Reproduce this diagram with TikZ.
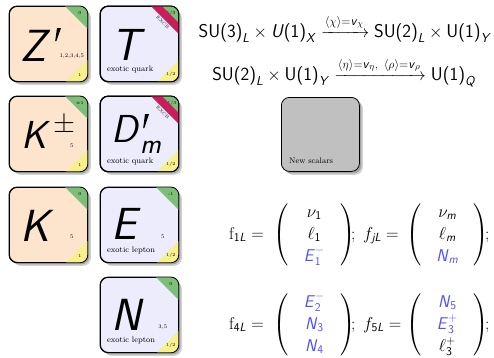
\documentclass[tikz,border=0pt]{standalone}
\usepackage{amsmath}
\usepackage{fontspec}
\usetikzlibrary{shadows}
\definecolor{peach}{RGB}{253,228,204}
\definecolor{lav}{RGB}{236,236,252}
\definecolor{tgreen}{RGB}{125,190,120}
\definecolor{tyellow}{RGB}{247,240,140}
\definecolor{tred}{RGB}{200,30,90}
\definecolor{sgray}{RGB}{192,192,192}
\definecolor{eblue}{RGB}{80,80,255}
\newcommand{\sv}[1]{\textsf{\textit{#1}}}
\newcommand{\su}[1]{\textsf{#1}}
\newcommand{\colvec}[3]{\left(\begin{array}{@{}c@{}}\makebox[52pt]{$#1$}\\ #2\\ #3\end{array}\right)}
\tikzset{
 tilebox/.style={draw=black, line width=0.8pt, rounded corners=8pt, minimum width=78pt, minimum height=75pt, inner sep=0pt, anchor=north west,
   drop shadow={shadow xshift=2pt, shadow yshift=-2pt, fill=black, opacity=0.22},
   drop shadow={shadow xshift=3.5pt, shadow yshift=-3.5pt, fill=black, opacity=0.18}},
 bigsym/.style={font=\fontsize{45}{45}\selectfont\sffamily\itshape, inner sep=0pt, anchor=base west},
 midsym/.style={font=\fontsize{39}{39}\selectfont\sffamily\itshape, inner sep=0pt, anchor=base west},
 tinylbl/.style={font=\fontsize{4.5}{4.5}\selectfont, inner sep=0pt},
 midlbl/.style={font=\fontsize{5.5}{5.5}\selectfont, inner sep=0pt},
 desc/.style={font=\fontsize{8}{8}\selectfont, inner sep=0pt, anchor=base west},
 eqn/.style={font=\fontsize{18.5}{20}\selectfont, inner sep=0pt, anchor=base},
 eqm/.style={font=\fontsize{17}{22}\selectfont, inner sep=0pt, anchor=base west},
 primemark/.style={fill=black},
}
% name, x, y, fill, green leg, mid label, green label, yellow label
\newcommand{\ptile}[8]{%
 \node[tilebox, fill=#4] (#1) at (#2,#3) {};
 \begin{scope}
  \clip[rounded corners=8pt] (#1.north west) rectangle (#1.south east);
  \fill[tgreen] (#1.north east) -- ++(0,-#5) -- ++(-#5,#5) -- cycle;
  \fill[tyellow] (#1.south east) -- ++(0,22pt) -- ++(-22pt,-22pt) -- cycle;
 \end{scope}
 \draw[line width=0.8pt, rounded corners=8pt] (#1.north west) rectangle (#1.south east);
 \node[midlbl] (#1-mid) at ([xshift=-16pt,yshift=-50pt]#1.north east) {#6};
 \node[tinylbl] (#1-grn) at ([xshift=-8pt,yshift=-7pt]#1.north east) {#7};
 \node[tinylbl] (#1-yel) at ([xshift=-8pt,yshift=7pt]#1.south east) {#8};
}
\newcommand{\redband}[1]{%
 \begin{scope}
  \clip[rounded corners=8pt] (#1.north west) rectangle (#1.south east);
  \fill[tred] ([xshift=-17pt]#1.north east) -- ([yshift=-17pt]#1.north east) -- ([yshift=-28pt]#1.north east) -- ([xshift=-28pt]#1.north east) -- cycle;
 \end{scope}
 \draw[line width=0.8pt, rounded corners=8pt] (#1.north west) rectangle (#1.south east);
 \node[tinylbl, rotate=-45, text=black!85] (#1-band) at ([xshift=-16pt,yshift=-16pt]#1.north east) {EXCB};
}
% prime stroke: tile name, x offset of top from tile left, y offset from tile top, height
\newcommand{\pstroke}[4]{%
 \fill[primemark] ([xshift=#2pt,yshift=-#3pt]#1.north west) -- ++(4pt,0) -- ++(-4.6pt,-#4pt) -- ++(-1.2pt,0) -- cycle;
}
\begin{document}
\begin{tikzpicture}[x=1pt,y=-1pt]
\useasboundingbox (0,0) rectangle (494,357);
% Z'
\ptile{zp}{9}{6}{peach}{23pt}{1,2,3,4,5}{0}{1}
\node[bigsym] (zp-sym) at ([xshift=11pt,yshift=-55pt]zp.north west) {Z};
\pstroke{zp}{48}{22}{13}
% T
\ptile{tq}{100}{6}{lav}{17pt}{}{5/3}{1/2}
\redband{tq}
\node[bigsym] (tq-sym) at ([xshift=11pt,yshift=-54pt]tq.north west) {T};
\node[desc] (tq-d) at ([xshift=7pt,yshift=10pt]tq.south west) {exotic quark};
% K+-
\ptile{kpm}{9}{96}{peach}{23pt}{5}{±1}{1}
\node[midsym] (kpm-sym) at ([xshift=12pt,yshift=-52pt]kpm.north west) {K};
\node[font=\fontsize{30}{30}\selectfont\sffamily, inner sep=0pt] (kpm-pm) at ([xshift=55pt,yshift=-27pt]kpm.north west) {±};
% D'_m
\ptile{dm}{100}{96}{lav}{17pt}{}{-1/3}{1/2}
\redband{dm}
\node[midsym] (dm-sym) at ([xshift=11pt,yshift=-46pt]dm.north west) {D};
\pstroke{dm}{45}{18}{14}
\node[font=\fontsize{28}{28}\selectfont\sffamily\itshape, inner sep=0pt, anchor=base west] (dm-m) at ([xshift=40pt,yshift=-57pt]dm.north west) {m};
\node[desc] (dm-d) at ([xshift=7pt,yshift=8pt]dm.south west) {exotic quark};
% K
\ptile{kz}{9}{187}{peach}{23pt}{5}{0}{1}
\node[bigsym] (kz-sym) at ([xshift=11pt,yshift=-54pt]kz.north west) {K};
% E
\ptile{el}{100}{187}{lav}{23pt}{5}{-1}{1/2}
\node[bigsym] (el-sym) at ([xshift=11pt,yshift=-52pt]el.north west) {E};
\node[desc] (el-d) at ([xshift=7pt,yshift=10pt]el.south west) {exotic lepton};
% N
\ptile{nl}{100}{277}{lav}{23pt}{3,5}{0}{1/2}
\node[bigsym] (nl-sym) at ([xshift=11pt,yshift=-53pt]nl.north west) {N};
\node[desc] (nl-d) at ([xshift=7pt,yshift=10pt]nl.south west) {exotic lepton};
% new scalars
\node[tilebox, fill=sgray, minimum width=78pt, minimum height=74pt] (ns) at (281,97) {};
\node[desc] (ns-d) at ([xshift=8pt,yshift=8pt]ns.south west) {New scalars};
% symmetry breaking
\node[eqn] (l1) at (345,37) {$\su{SU(3)}_{\sv{L}}\times \sv{U}\su{(1)}_{\sv{X}} \xrightarrow{\langle\chi\rangle=\sv{v}_{\chi}} \su{SU(2)}_{\sv{L}}\times\su{U(1)}_{\sv{Y}}$};
\node[eqn] (l2) at (344,80) {$\su{SU(2)}_{\sv{L}}\times\su{U(1)}_{\sv{Y}}\xrightarrow{\langle\eta\rangle=\sv{v}_{\eta},\ \langle\rho\rangle=\sv{v}_{\rho}}\su{U(1)}_{\sv{Q}}$};
% multiplets row 1
\node[eqm] (m1l) at (229,239) {$\mathrm{f}_{\su{1}\sv{L}} =$};
\node[eqm] (m1m) at (273,239) {$\colvec{\nu_{\su{1}}}{\ell_{\su{1}}}{\textcolor{eblue}{\sv{E}^{-}_{\su{1}}}}$};
\node[eqm] (m1s) at (351,239) {;};
\node[eqm] (m2l) at (363,239) {$f_{\sv{jL}} =$};
\node[eqm] (m2m) at (406,239) {$\colvec{\nu_{\sv{m}}}{\ell_{\sv{m}}}{\textcolor{eblue}{\sv{N}_{\sv{m}}}}$};
\node[eqm] (m2s) at (485,239) {;};
% multiplets row 2
\node[eqm] (m3l) at (229,329) {$\mathrm{f}_{\su{4}\sv{L}} =$};
\node[eqm] (m3m) at (273,329) {$\colvec{\textcolor{eblue}{\sv{E}^{-}_{\su{2}}}}{\textcolor{eblue}{\sv{N}_{\su{3}}}}{\textcolor{eblue}{\sv{N}_{\su{4}}}}$};
\node[eqm] (m3s) at (351,329) {;};
\node[eqm] (m4l) at (363,329) {$f_{\su{5}\sv{L}} =$};
\node[eqm] (m4m) at (406,329) {$\colvec{\textcolor{eblue}{\sv{N}_{\su{5}}}}{\textcolor{eblue}{\sv{E}^{+}_{\su{3}}}}{\ell^{+}_{\su{3}}}$};
\node[eqm] (m4s) at (485,329) {;};
\end{tikzpicture}
\end{document}
